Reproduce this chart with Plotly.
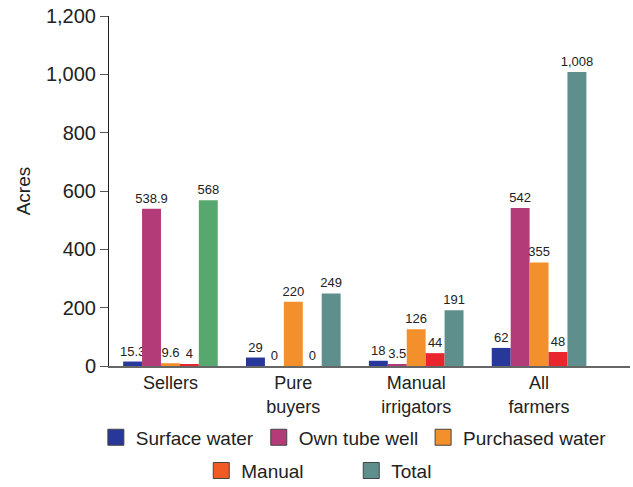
import plotly.graph_objects as go

categories = ["Sellers", "Pure<br>buyers", "Manual<br>irrigators", "All<br>farmers"]
series_names = ["Surface water", "Own tube well", "Purchased water", "Manual", "Total"]
surface_water = [15.3, 29, 18, 62]
own_tube_well = [538.9, 0, 3.5, 542]
purchased_water = [9.6, 220, 126, 355]
manual = [4, 0, 44, 48]
total = [568, 249, 191, 1008]
y_ticks = [0, 200, 400, 600, 800, 1000, 1200]

series_values = [surface_water, own_tube_well, purchased_water, manual, total]
bar_colors = [
    ["#28389a"] * 4,
    ["#b33b77"] * 4,
    ["#f4902b"] * 4,
    ["#e8262b"] * 4,
    ["#56a86f", "#5f8f8c", "#5f8f8c", "#5f8f8c"],
]
legend_colors = ["#28389a", "#b33b77", "#f4902b", "#f15a22", "#5f8f8c"]
legend_ids = ["legend", "legend", "legend", "legend2", "legend2"]


def fmt(v):
    return f"{v:,}"


font_family = "Liberation Sans, Arial, sans-serif"

fig = go.Figure()
for name, vals, cols in zip(series_names, series_values, bar_colors):
    fig.add_trace(go.Bar(
        x=categories, y=vals, name=name, showlegend=False,
        marker=dict(color=cols, line=dict(width=0)),
        text=[fmt(v) for v in vals], textposition="outside",
        constraintext="none",
        textfont=dict(size=13, color="#222", family=font_family),
        cliponaxis=False,
    ))

# legend-only entries on an overlaid hidden axis (don't affect grouping)
for name, col, lg in zip(series_names, legend_colors, legend_ids):
    fig.add_trace(go.Scatter(
        x=[None], y=[None], name=name, xaxis="x2", mode="markers",
        marker=dict(symbol="square", size=16, color=col,
                    line=dict(color="#444", width=1)),
        legend=lg, showlegend=True,
    ))

fig.update_layout(
    width=633, height=487,
    margin=dict(l=109, r=3, t=16, b=121, autoexpand=False),
    paper_bgcolor="white", plot_bgcolor="white",
    barmode="group", bargap=0.23, bargroupgap=0,
    font=dict(family=font_family, size=18, color="#222"),
    xaxis=dict(
        range=[-0.5, 3.74], showgrid=False, zeroline=False,
        showline=True, linecolor="#666", linewidth=1.5,
        ticks="", tickfont=dict(size=18, color="#222"),
    ),
    xaxis2=dict(overlaying="x", visible=False, range=[-0.5, 3.74]),
    yaxis=dict(
        range=[0, 1200], tickvals=y_ticks, tickformat=",",
        showgrid=False, zeroline=False,
        showline=True, linecolor="#222", linewidth=1,
        ticks="outside", ticklen=8, tickcolor="#555",
        tickfont=dict(size=20, color="#222"),
        title=dict(text="Acres", font=dict(size=19, color="#222"), standoff=10),
    ),
    legend=dict(
        orientation="h", x=0.47, xanchor="center", y=-0.204, yanchor="middle",
        font=dict(size=19, color="#222"), itemwidth=30, tracegroupgap=0,
        bgcolor="rgba(0,0,0,0)",
    ),
    legend2=dict(
        orientation="h", x=0.465, xanchor="center", y=-0.299, yanchor="middle",
        font=dict(size=19, color="#222"), itemwidth=30, entrywidth=105,
        bgcolor="rgba(0,0,0,0)",
    ),
    showlegend=True,
)

fig.write_html("out.html")
